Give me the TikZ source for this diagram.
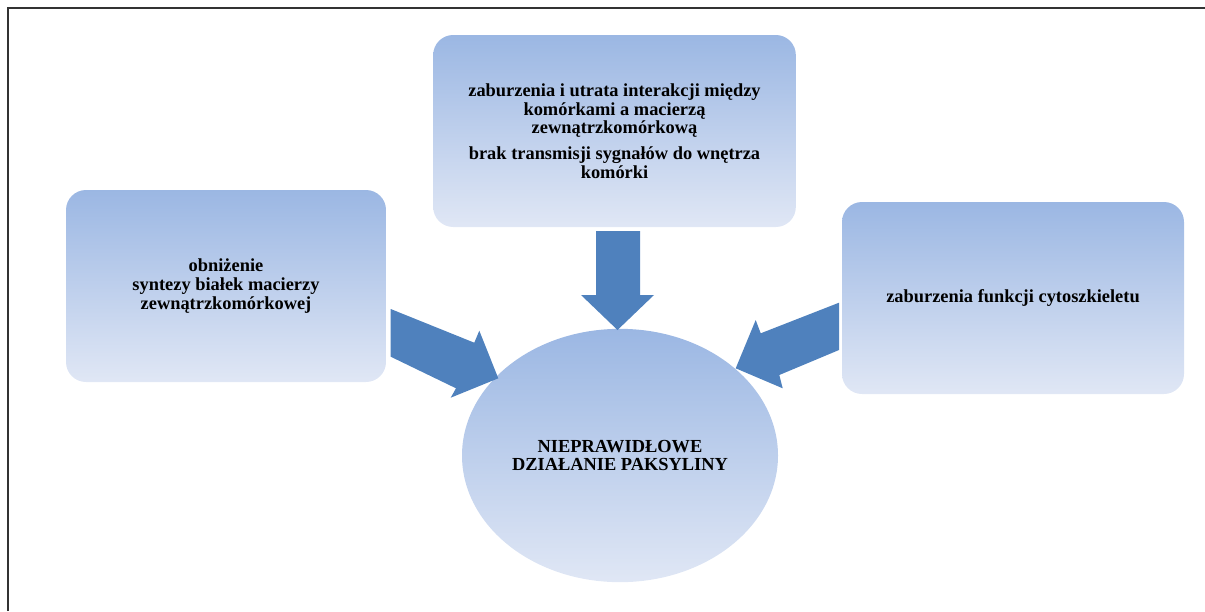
\documentclass[tikz,border=0pt]{standalone}
\usepackage{fontspec}
\setmainfont{Liberation Serif}
\usepackage{tikz}
\usetikzlibrary{shapes}
\definecolor{gradtop}{RGB}{155,183,227}
\definecolor{gradbottom}{RGB}{224,231,245}
\definecolor{arrowblue}{RGB}{79,129,189}
\tikzstyle{boxtext}=[align=center,font=\bfseries\fontsize{13.8}{14.2}\selectfont]
\tikzstyle{causeelement}=[boxtext,rectangle,rounded corners=15pt,top color=gradtop,bottom color=gradbottom,minimum height=144pt,inner sep=0pt]
\tikzstyle{effectelement}=[boxtext,ellipse,top color=gradtop,bottom color=gradbottom,minimum width=237pt,minimum height=190pt,inner sep=0pt]
\tikzstyle{blockarrow}=[fill=arrowblue]
\tikzstyle{frameline}=[draw=black!80,line width=1pt]

\begin{document}
\begin{tikzpicture}[x=0.75pt,y=-0.75pt]

\useasboundingbox (0,0) rectangle (1205,611);
\draw[frameline] (8,611) -- (8,8) -- (1205,8);

\node[causeelement,minimum width=240pt] (C1) at (226,286) {obniżenie \\ syntezy białek macierzy \\ zewnątrzkomórkowej};
\node[causeelement,minimum width=272pt] (C2) at (614.5,131) {zaburzenia i utrata interakcji między \\ komórkami a macierzą \\ zewnątrzkomórkową \\[5pt] brak transmisji sygnałów do wnętrza \\ komórki};
\node[causeelement,minimum width=256.5pt] (C3) at (1013,298) {zaburzenia funkcji cytoszkieletu};

\node[effectelement] (E) at (620,455.5) {NIEPRAWIDŁOWE \\ DZIAŁANIE PAKSYLINY};

% block arrows towards the ellipse
\fill[blockarrow] (596,231) -- (640,231) -- (640,295) -- (654,295) -- (617.5,330) -- (581,295) -- (596,295) -- cycle;
\fill[blockarrow] (390.7,309) -- (474.3,342.7) -- (479.3,330.7) -- (498.3,378.3) -- (450.7,397.7) -- (456,388.3) -- (390.7,356.7) -- cycle;
\fill[blockarrow] (839,302.7) -- (760.7,333.3) -- (755.7,320) -- (735.7,368.3) -- (782.7,388.3) -- (779.3,375) -- (839,350) -- cycle;

\end{tikzpicture}
\end{document}
